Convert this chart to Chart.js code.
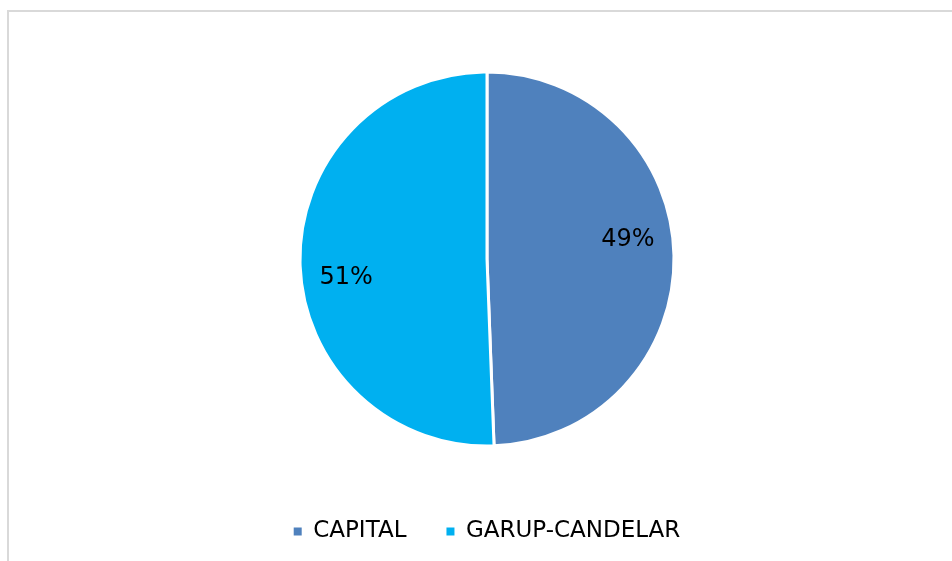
<!DOCTYPE html>
<html lang="en">
<head>
    <meta charset="UTF-8">
    <title>CAPITAL vs GARUP-CANDELAR</title>
    <script src="https://cdn.jsdelivr.net/npm/chart.js@4.4.0/dist/chart.umd.min.js"></script>
    <style>
        body {
            margin: 0;
            background-color: #fff;
            overflow: hidden;
        }
        #frame {
            position: absolute;
            left: 7px;
            top: 10px;
            width: 1000px;
            height: 600px;
            border-left: 2px solid #d9d9d9;
            border-top: 2px solid #d9d9d9;
        }
        #canvas {
            position: absolute;
            left: 0;
            top: 0;
        }
    </style>
</head>
<body>
    <div id="frame"></div>
    <canvas id="canvas" width="952" height="561"></canvas>

    <script>
        // Data
        const categories = ["CAPITAL", "GARUP-CANDELAR"];
        const shares = [49.4, 50.6];
        const colors = ["#4F81BD", "#00B0F0"];

        const fontFamily = "'DejaVu Sans', Verdana, sans-serif";

        // Percentage labels drawn on each slice
        const pctLabels = {
            id: 'pctLabels',
            afterDatasetsDraw(chart) {
                let ctx = chart.ctx;
                let meta = chart.getDatasetMeta(0);
                let data = chart.data.datasets[0].data;
                let total = data.reduce((a, b) => a + b, 0);
                ctx.save();
                ctx.font = "24px " + fontFamily;
                ctx.fillStyle = "#000";
                ctx.textAlign = "center";
                ctx.textBaseline = "middle";
                meta.data.forEach((arc, i) => {
                    let p = arc.getProps(['x', 'y', 'startAngle', 'endAngle', 'outerRadius'], true);
                    let mid = (p.startAngle + p.endAngle) / 2 - 6.5 * Math.PI / 180;
                    let dist = p.outerRadius * 0.76;
                    let x = p.x + Math.cos(mid) * dist;
                    let y = p.y + Math.sin(mid) * dist;
                    ctx.fillText(Math.round(data[i] / total * 100) + "%", x, y);
                });
                ctx.restore();
            }
        };

        let ctx = document.getElementById("canvas").getContext("2d");
        new Chart(ctx, {
            type: 'pie',
            data: {
                labels: categories,
                datasets: [{
                    data: shares,
                    backgroundColor: colors,
                    borderColor: '#ffffff',
                    borderWidth: 3
                }]
            },
            options: {
                responsive: false,
                animation: false,
                radius: 187,
                layout: {
                    padding: { top: 38, left: 22, right: 0, bottom: 10 }
                },
                plugins: {
                    tooltip: { enabled: false },
                    legend: {
                        position: 'bottom',
                        maxHeight: 71,
                        labels: {
                            boxWidth: 8,
                            boxHeight: 8,
                            padding: 40,
                            color: '#000',
                            font: { family: fontFamily, size: 23 },
                            generateLabels(chart) {
                                let items = Chart.overrides.pie.plugins.legend.labels.generateLabels(chart);
                                items.forEach(it => { it.lineWidth = 0; });
                                return items;
                            }
                        }
                    }
                }
            },
            plugins: [pctLabels]
        });
    </script>
</body>
</html>
